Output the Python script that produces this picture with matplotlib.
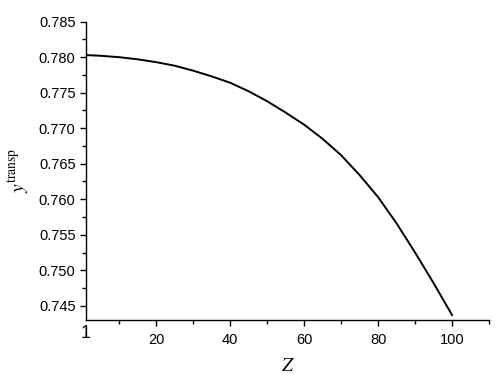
import matplotlib
matplotlib.use("Agg")
import matplotlib.pyplot as plt
from matplotlib.ticker import MultipleLocator, FixedLocator

z = [1, 5, 10, 15, 20, 25, 30, 35, 40, 45, 50, 55, 60, 65, 70, 75, 80, 85, 90, 95, 100]
y_transp = [0.7803, 0.7802, 0.7800, 0.7797, 0.7793, 0.7788, 0.7781, 0.7773, 0.7764,
            0.7752, 0.7738, 0.7722, 0.7705, 0.7685, 0.7662, 0.7634, 0.7603, 0.7566,
            0.7525, 0.7482, 0.7437]
x_ticks = [20, 40, 60, 80, 100]

plt.rcParams['font.family'] = ['Liberation Sans', 'DejaVu Sans']
plt.rcParams['mathtext.fontset'] = 'stix'

fig = plt.figure(figsize=(5.01, 3.74), dpi=100)
ax = fig.add_axes([0.1717, 0.1444, 0.8044, 0.7976])
ax.plot(z, y_transp, color='black', lw=1.4)

ax.set_xlim(1, 110)
ax.set_ylim(0.743, 0.785)
ax.spines['top'].set_visible(False)
ax.spines['right'].set_visible(False)
for s in ['left', 'bottom']:
    ax.spines[s].set_linewidth(1.0)

ax.xaxis.set_major_locator(FixedLocator(x_ticks))
ax.xaxis.set_minor_locator(FixedLocator([10, 30, 50, 70, 90, 110]))
ax.yaxis.set_major_locator(MultipleLocator(0.005))
ax.yaxis.set_minor_locator(MultipleLocator(0.0025))
ax.yaxis.set_major_formatter(matplotlib.ticker.FormatStrFormatter('%.3f'))
ax.tick_params(which='major', direction='out', length=4.5, width=1.0, labelsize=10.5, pad=3)
ax.tick_params(axis='x', which='major', pad=5)
ax.tick_params(which='minor', direction='out', length=3, width=1.0)
ax.text(1, -0.018, '1', transform=ax.get_xaxis_transform(), ha='center', va='top', fontsize=13)

ax.set_xlabel(r'$Z$', fontsize=14, labelpad=8)
ax.set_ylabel(r'$y^{\mathrm{transp}}$', fontsize=14, labelpad=6)

fig.savefig('out.png', dpi=100)
